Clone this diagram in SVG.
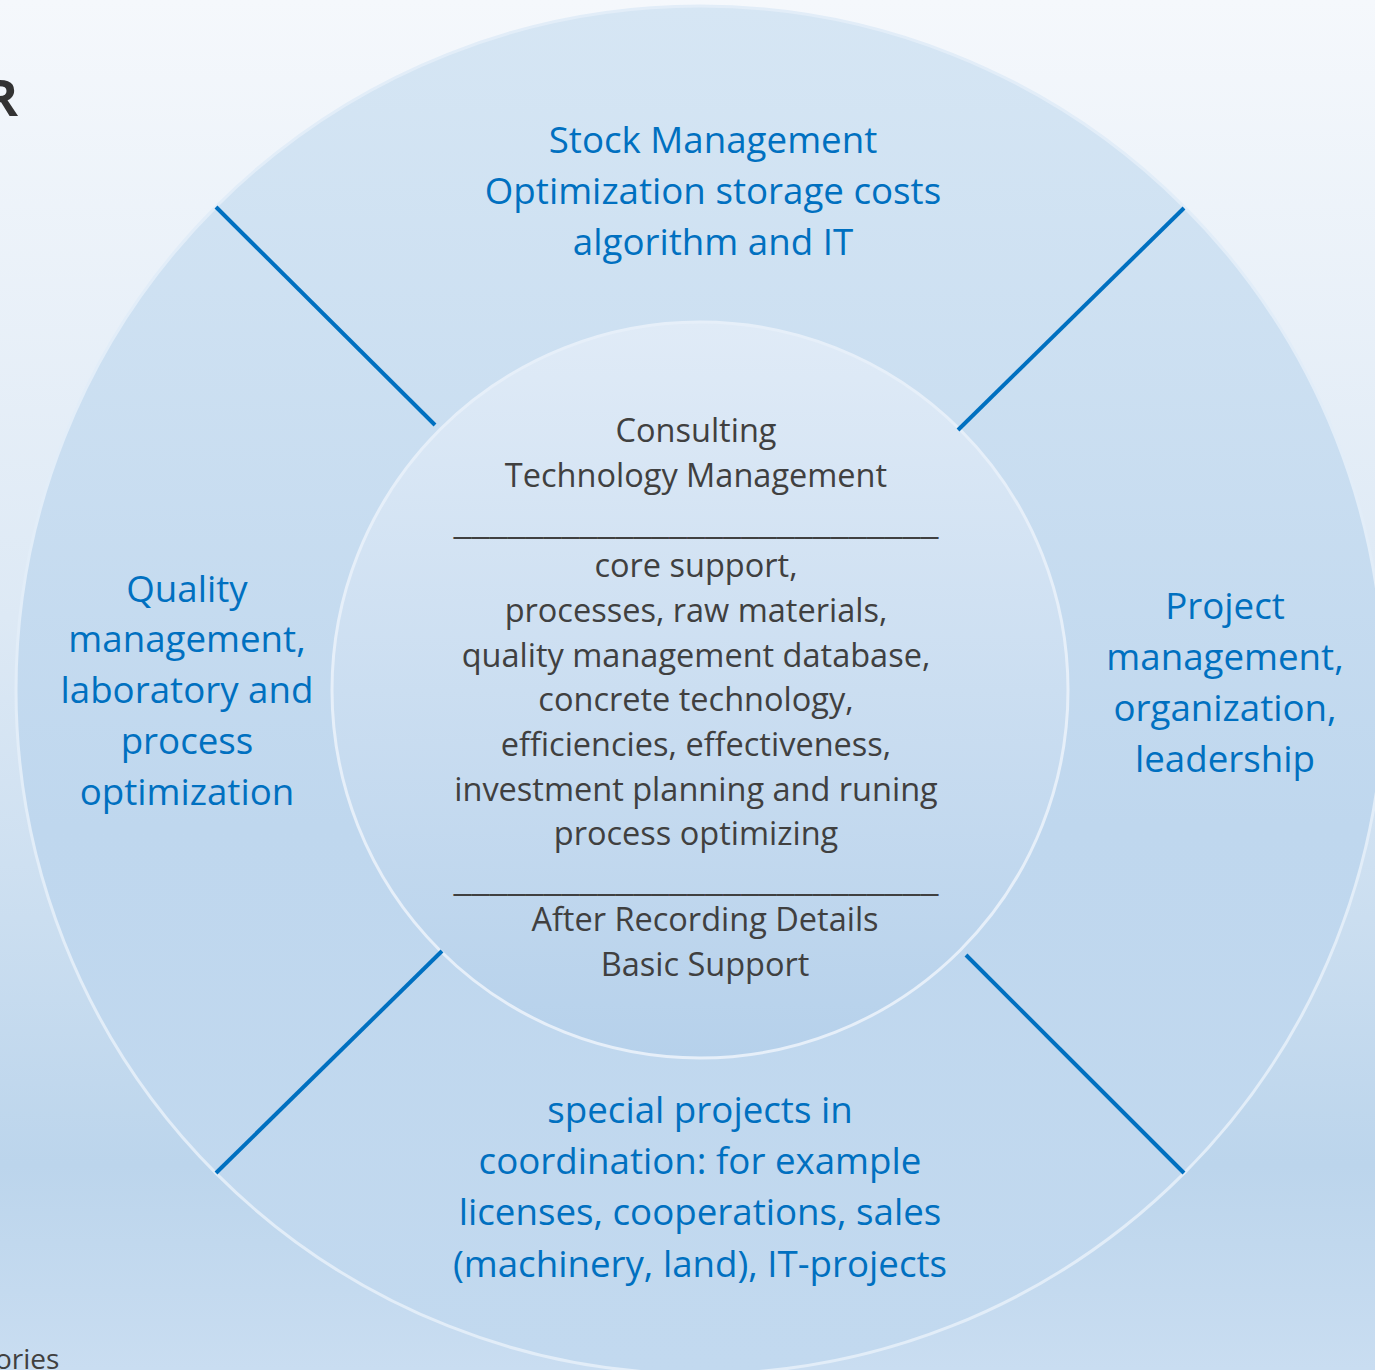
<svg xmlns="http://www.w3.org/2000/svg" width="1375" height="1370" viewBox="0 0 1375 1370">
<defs>
<linearGradient id="bg" x1="0" y1="0" x2="0" y2="1370" gradientUnits="userSpaceOnUse">
<stop offset="0" stop-color="#F5F8FC"/>
<stop offset="0.45" stop-color="#DDE9F5"/>
<stop offset="0.85" stop-color="#BCD5EC"/>
<stop offset="1" stop-color="#C9DDF1"/>
</linearGradient>
<linearGradient id="ring" x1="0" y1="6" x2="0" y2="1374" gradientUnits="userSpaceOnUse">
<stop offset="0" stop-color="#D6E6F4"/>
<stop offset="0.6" stop-color="#BFD7EE"/>
<stop offset="1" stop-color="#C2D9EF"/>
</linearGradient>
<linearGradient id="core" x1="0" y1="322" x2="0" y2="1058" gradientUnits="userSpaceOnUse">
<stop offset="0" stop-color="#E0EBF7"/>
<stop offset="1" stop-color="#B6D1EB"/>
</linearGradient>
</defs>
<style>
.blue{font-family:"Open Sans","Noto Sans",sans-serif;font-size:36.7px;fill:#0070C0;text-anchor:middle}
.gray{font-family:"Open Sans","Noto Sans",sans-serif;font-size:32.5px;fill:#404040;text-anchor:middle}
.sep{stroke:#0070C0;stroke-width:4;stroke-linecap:butt}
</style>
<rect width="1375" height="1370" fill="url(#bg)"/>
<text x="-15" y="116" font-family="Open Sans, sans-serif" font-size="50" font-weight="bold" fill="#333333">R</text>
<text x="-5" y="1369" font-family="Open Sans, sans-serif" font-size="28" fill="#404040">ories</text>
<g id="ring-node">
<circle cx="700" cy="690" r="684" fill="url(#ring)" stroke="#E2EDF8" stroke-width="3"/>
</g>
<g id="core-node">
<circle cx="700" cy="690" r="368" fill="url(#core)" stroke="#E6EFF9" stroke-width="3"/>
<text class="gray" x="696" y="442">Consulting</text>
<text class="gray" x="696" y="487">Technology Management</text>
<text class="gray" x="696" y="534" textLength="485" lengthAdjust="spacingAndGlyphs">___________________________</text>
<text class="gray" x="696" y="577">core support,</text>
<text class="gray" x="696" y="622">processes, raw materials,</text>
<text class="gray" x="696" y="667">quality management database,</text>
<text class="gray" x="696" y="711">concrete technology,</text>
<text class="gray" x="696" y="756">efficiencies, effectiveness,</text>
<text class="gray" x="696" y="801">investment planning and runing</text>
<text class="gray" x="696" y="845">process optimizing</text>
<text class="gray" x="696" y="891" textLength="485" lengthAdjust="spacingAndGlyphs">___________________________</text>
<text class="gray" x="705" y="931">After Recording Details</text>
<text class="gray" x="705" y="976">Basic Support</text>
</g>
<g id="top-node">
<text class="blue" x="713" y="153">Stock Management</text>
<text class="blue" x="713" y="204">Optimization storage costs</text>
<text class="blue" x="713" y="255">algorithm and IT</text>
</g>
<g id="left-node">
<text class="blue" x="187" y="602">Quality</text>
<text class="blue" x="187" y="652">management,</text>
<text class="blue" x="187" y="703">laboratory and</text>
<text class="blue" x="187" y="754">process</text>
<text class="blue" x="187" y="805">optimization</text>
</g>
<g id="right-node">
<text class="blue" x="1225" y="619">Project</text>
<text class="blue" x="1225" y="670">management,</text>
<text class="blue" x="1225" y="721">organization,</text>
<text class="blue" x="1225" y="772">leadership</text>
</g>
<g id="bottom-node">
<text class="blue" x="700" y="1123">special projects in</text>
<text class="blue" x="700" y="1174">coordination: for example</text>
<text class="blue" x="700" y="1225">licenses, cooperations, sales</text>
<text class="blue" x="700" y="1277">(machinery, land), IT-projects</text>
</g>
<g id="connectors">
<line class="sep" x1="216" y1="207" x2="435" y2="425"/>
<line class="sep" x1="1184" y1="208" x2="958" y2="430"/>
<line class="sep" x1="216" y1="1173" x2="442" y2="951"/>
<line class="sep" x1="1184" y1="1173" x2="966" y2="955"/>
</g>
</svg>
